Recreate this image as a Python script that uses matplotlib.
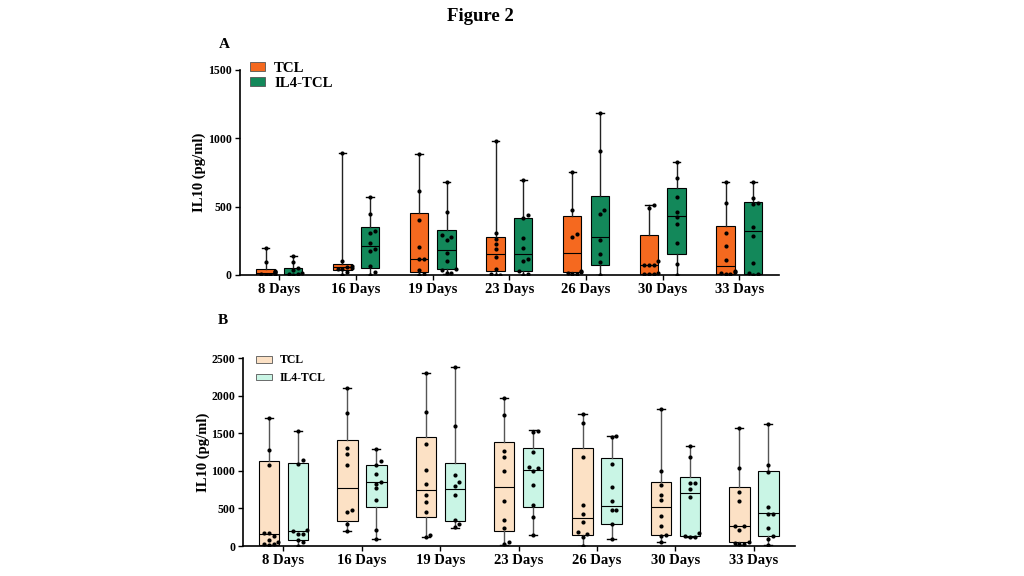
import numpy as np
import matplotlib
matplotlib.use("Agg")
import matplotlib.pyplot as plt
from matplotlib.patches import Patch

plt.rcParams['font.family'] = ['Liberation Serif', 'DejaVu Serif']
plt.rcParams['font.weight'] = 'bold'

days = ["8 Days", "16 Days", "19 Days", "23 Days", "26 Days", "30 Days", "33 Days"]

# Panel A: box stats [low whisker, q1, median, q3, high whisker]
tcl_a_box = [[0, 3, 15, 41, 198], [0, 36, 56, 82, 895], [0, 19, 114, 452, 883],
             [0, 32, 154, 276, 983], [5, 20, 163, 429, 751], [5, 7, 71, 290, 515],
             [5, 7, 68, 361, 678]]
il4_a_box = [[0, 3, 10, 51, 140], [0, 53, 210, 351, 573], [10, 41, 181, 331, 677],
             [2, 32, 156, 420, 695], [2, 76, 281, 576, 1186], [0, 156, 432, 637, 825],
             [2, 7, 320, 537, 681]]
tcl_a_pts = [[198, 97, 30, 25, 20, 10, 5, 2, 0],
             [895, 104, 68, 60, 53, 46, 41, 24, 0],
             [883, 612, 404, 206, 114, 114, 36, 5, 0],
             [983, 305, 264, 227, 190, 129, 44, 8, 3, 0],
             [751, 476, 300, 276, 32, 20, 12, 7, 5],
             [515, 488, 100, 71, 71, 71, 12, 7, 7, 5],
             [678, 525, 305, 210, 110, 27, 20, 12, 7, 5]]
il4_a_pts = [[140, 92, 48, 36, 12, 5, 5, 0],
             [573, 443, 322, 310, 237, 189, 177, 68, 24, 0],
             [677, 460, 290, 278, 259, 162, 104, 41, 36, 17, 12],
             [695, 439, 417, 271, 195, 117, 100, 32, 7, 2],
             [1186, 910, 476, 446, 256, 154, 98, 2],
             [825, 710, 569, 464, 422, 373, 232, 83, 0],
             [681, 561, 527, 520, 354, 285, 88, 12, 7, 2]]

# Panel B
tcl_b_box = [[18, 20, 165, 1130, 1708], [200, 334, 778, 1406, 2100], [120, 383, 752, 1454, 2300],
             [13, 195, 790, 1381, 1967], [4, 151, 377, 1305, 1758], [58, 151, 524, 857, 1825],
             [13, 49, 271, 790, 1572]]
il4_b_box = [[0, 76, 196, 1108, 1530], [98, 520, 854, 1085, 1294], [245, 334, 765, 1108, 2380],
             [151, 515, 1017, 1305, 1545], [93, 293, 533, 1177, 1465], [124, 138, 706, 919, 1336],
             [18, 138, 435, 1003, 1629]]
tcl_b_pts = [[1708, 1277, 1085, 178, 178, 133, 85, 53, 31, 22, 18],
             [2100, 1766, 1299, 1232, 1076, 476, 454, 298, 200],
             [2300, 1784, 1352, 1019, 827, 680, 587, 454, 151, 120],
             [1967, 1745, 1270, 1190, 995, 604, 351, 240, 58, 22],
             [1758, 1634, 1190, 546, 426, 320, 182, 160, 124, 4],
             [1825, 1003, 813, 679, 617, 404, 271, 151, 138, 58],
             [1572, 1035, 724, 595, 271, 262, 213, 49, 36, 27, 27]]
il4_b_pts = [[1530, 1152, 1099, 209, 200, 156, 156, 85, 53, 0],
             [1294, 1130, 1085, 956, 850, 832, 770, 609, 218, 98],
             [2380, 1597, 952, 858, 801, 680, 351, 298, 254],
             [1536, 1523, 1248, 1057, 1039, 1003, 817, 551, 391, 151],
             [1465, 1447, 1088, 781, 599, 480, 480, 293, 93],
             [1336, 1181, 835, 835, 759, 648, 169, 138, 124, 124],
             [1629, 1079, 981, 524, 426, 426, 235, 138, 93, 18]]


def swarm(ax, x0, vals, half_w, diam=4.6):
    # place dots on a centre line, pushing them sideways where they would overlap
    placed = []
    out = []
    for v in sorted(vals):
        px, py = ax.transData.transform((x0, v))
        x_left = ax.transData.transform((x0 - half_w, v))[0]
        lim = px - x_left
        k = 0
        while True:
            off = ((k + 1) // 2) * diam * (1 if k % 2 else -1) if k else 0
            if abs(off) > lim:
                off = np.clip(off, -lim, lim)
                break
            if all((px + off - qx) ** 2 + (py - qy) ** 2 >= diam ** 2 for qx, qy in placed):
                break
            k += 1
        placed.append((px + off, py))
        out.append(ax.transData.inverted().transform((px + off, py)))
    out = np.array(out)
    ax.scatter(out[:, 0], out[:, 1], s=9, color='black', zorder=4, linewidths=0)


def panel(ax, tcl_box, il4_box, tcl_pts, il4_pts, colors, ymax, yticks, width, off, wcol,
          lab_x, leg_anchor, leg_size, leg_hl, leg_hh, leg_sp):
    ax.set_xlim(-0.52, 6.52)
    ax.set_ylim(0, ymax)
    x = np.arange(len(days))
    for boxes, pts, pos, col in [(tcl_box, tcl_pts, x - off, colors[0]),
                                 (il4_box, il4_pts, x + off, colors[1])]:
        stats = [dict(whislo=b[0], q1=b[1], med=b[2], q3=b[3], whishi=b[4]) for b in boxes]
        ax.bxp(stats, positions=pos, widths=width, showfliers=False, patch_artist=True,
               capwidths=width * 0.4,
               boxprops=dict(facecolor=col, edgecolor='black', linewidth=0.8),
               medianprops=dict(color='black', linewidth=0.8),
               whiskerprops=dict(color=wcol, linewidth=1.0),
               capprops=dict(color='black', linewidth=1.0),
               manage_ticks=False)
        for p, v in zip(pos, pts):
            swarm(ax, p, v, width / 2)
    ax.set_xticks(x)
    ax.set_xticklabels(days, fontsize=10.5, fontweight='bold')
    ax.set_yticks(yticks)
    ax.set_yticklabels([str(t) for t in yticks], fontsize=8.5, fontweight='bold')
    ax.tick_params(length=3.5, width=1.0, pad=2)
    for s in ['top', 'right']:
        ax.spines[s].set_visible(False)
    for s in ['left', 'bottom']:
        ax.spines[s].set_linewidth(1.2)
    ax.set_ylabel("IL10 (pg/ml)", fontsize=10.5, fontweight='bold')
    ax.yaxis.set_label_coords(lab_x, 0.5)
    ax.yaxis.label.set_va('center')
    handles = [Patch(facecolor=colors[0], edgecolor='#555555', linewidth=0.6, label='TCL'),
               Patch(facecolor=colors[1], edgecolor='#555555', linewidth=0.6, label='IL4-TCL')]
    ax.legend(handles=handles, loc='upper left', bbox_to_anchor=leg_anchor, frameon=False,
              prop=dict(size=leg_size, weight='bold'), handlelength=leg_hl,
              handleheight=leg_hh, handletextpad=0.6, labelspacing=leg_sp,
              borderpad=0, borderaxespad=0)


fig = plt.figure(figsize=(10.24, 5.76), dpi=100)
ax_a = fig.add_axes([0.234, 0.5226, 0.527, 0.356])
ax_b = fig.add_axes([0.237, 0.052, 0.539, 0.326])

panel(ax_a, tcl_a_box, il4_a_box, tcl_a_pts, il4_a_pts, ['#F5691F', '#13885A'],
      1500, [0, 500, 1000, 1500], 0.24, 0.18, '#222222',
      -0.074, (0.02, 1.041), 10.7, 1.0, 0.55, 0.15)
panel(ax_b, tcl_b_box, il4_b_box, tcl_b_pts, il4_b_pts, ['#FCE1C5', '#C9F5E5'],
      2500, [0, 500, 1000, 1500, 2000, 2500], 0.26, 0.185, '#555555',
      -0.071, (0.025, 1.021), 8.5, 1.35, 0.5, 0.5)

fig.text(0.469, 0.972, "Figure 2", ha='center', va='center', fontsize=13.5, fontweight='bold')
fig.text(0.219, 0.922, "A", ha='center', va='center', fontsize=11, fontweight='bold')
fig.text(0.218, 0.443, "B", ha='center', va='center', fontsize=11, fontweight='bold')

fig.savefig("out.png", dpi=100)
